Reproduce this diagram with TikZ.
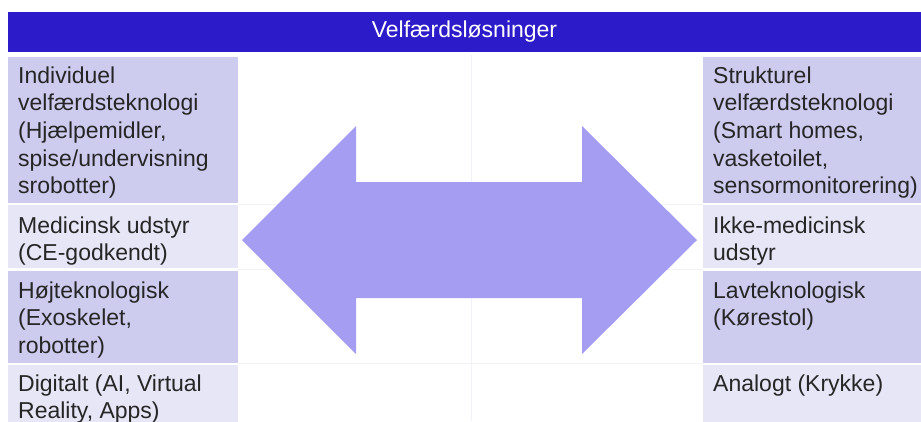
\documentclass[tikz,border=0pt]{standalone}
\usepackage{fontspec}
\setmainfont{Liberation Sans}
\definecolor{hdrblue}{HTML}{2B1BC9}
\definecolor{celldark}{HTML}{CDCBEE}
\definecolor{celllight}{HTML}{E7E6F6}
\definecolor{arrowfill}{HTML}{A59DF2}
\definecolor{gridfaint}{HTML}{F1F1F8}
\tikzset{
  cell/.style={draw=none, inner sep=0, anchor=north west},
  txt/.style={anchor=base west, inner sep=0, text=black!85, font=\fontsize{23}{27.7}\selectfont},
  hdrtxt/.style={text=white, font=\fontsize{23}{27.7}\selectfont, inner sep=0},
}
\begin{document}
\begin{tikzpicture}[x=1pt,y=-1pt]
\useasboundingbox (0,0) rectangle (921,421);
\clip (0,0) rectangle (921,421);
% header
\node[cell, fill=hdrblue, minimum width=913, minimum height=40] (hdr) at (8,12) {};
\node[hdrtxt] (hdrlabel) at (464.5,32) {Velfærdsløsninger};
% faint grid lines in the middle
\coordinate (g1a) at (238,204); \coordinate (g1b) at (703,204);
\coordinate (g2a) at (238,269.5); \coordinate (g2b) at (703,269.5);
\coordinate (g3a) at (238,363.5); \coordinate (g3b) at (703,363.5);
\coordinate (gva) at (471,55); \coordinate (gvb) at (471,421);
\draw[gridfaint, line width=1] (g1a) -- (g1b) (g2a) -- (g2b) (g3a) -- (g3b) (gva) -- (gvb);
% left cells
\node[cell, fill=celldark, minimum width=230, minimum height=146] (l1) at (8,57) {};
\node[cell, fill=celllight, minimum width=230, minimum height=63] (l2) at (8,205) {};
\node[cell, fill=celldark, minimum width=230, minimum height=92] (l3) at (8,271) {};
\node[cell, fill=celllight, minimum width=230, minimum height=60] (l4) at (8,365) {};
% right cells
\node[cell, fill=celldark, minimum width=218, minimum height=146] (r1) at (703,57) {};
\node[cell, fill=celllight, minimum width=218, minimum height=63] (r2) at (703,205) {};
\node[cell, fill=celldark, minimum width=218, minimum height=92] (r3) at (703,271) {};
\node[cell, fill=celllight, minimum width=218, minimum height=60] (r4) at (703,365) {};
% left texts
\node[txt] (lt1) at (18,83) {\parbox[t]{300pt}{Individuel\\velfærdsteknologi\\(Hjælpemidler,\\spise/undervisning\\srobotter)}};
\node[txt] (lt2) at (18,233) {\parbox[t]{300pt}{Medicinsk udstyr\\(CE-godkendt)}};
\node[txt] (lt3) at (18,298) {\parbox[t]{300pt}{Højteknologisk\\(Exoskelet,\\robotter)}};
\node[txt] (lt4) at (18,391) {\parbox[t]{300pt}{Digitalt (AI, Virtual\\Reality, Apps)}};
% right texts
\node[txt] (rt1) at (713,83) {\parbox[t]{300pt}{Strukturel\\velfærdsteknologi\\(Smart homes,\\vasketoilet,\\sensormonitorering)}};
\node[txt] (rt2) at (713,233) {\parbox[t]{300pt}{Ikke-medicinsk\\udstyr}};
\node[txt] (rt3) at (713,298) {\parbox[t]{300pt}{Lavteknologisk\\(Kørestol)}};
\node[txt] (rt4) at (713,391) {\parbox[t]{300pt}{Analogt (Krykke)}};
% double arrow
\fill[arrowfill] (242,240) -- (356,126) -- (356,182) -- (582,182) -- (582,126) -- (697,240)
  -- (582,354) -- (582,298) -- (356,298) -- (356,354) -- cycle;
\end{tikzpicture}
\end{document}
